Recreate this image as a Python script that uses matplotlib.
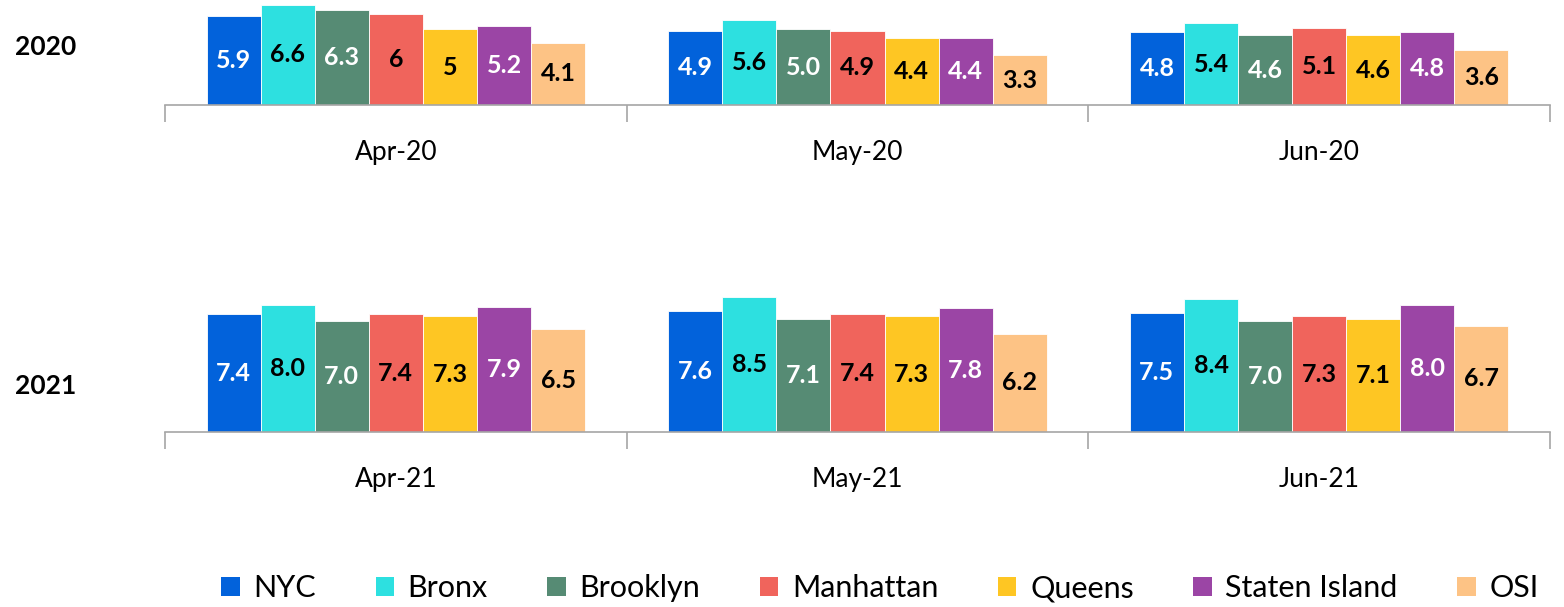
import numpy as np
import matplotlib.pyplot as plt
from matplotlib.patches import Patch

plt.rcParams['font.family'] = ['Lato', 'DejaVu Sans']

boroughs = ['NYC', 'Bronx', 'Brooklyn', 'Manhattan', 'Queens', 'Staten Island', 'OSI']
colors = ['#0262DB', '#2DE0E0', '#568B74', '#F0645C', '#FEC623', '#9B45A5', '#FDC385']
text_colors = ['white', 'black', 'white', 'black', 'black', 'white', 'black']

months_2020 = ['Apr-20', 'May-20', 'Jun-20']
vals_2020 = [
    [5.9, 6.6, 6.3, 6.0, 5.0, 5.2, 4.1],
    [4.9, 5.6, 5.0, 4.9, 4.4, 4.4, 3.3],
    [4.8, 5.4, 4.6, 5.1, 4.6, 4.8, 3.6],
]
labels_2020 = [
    ['5.9', '6.6', '6.3', '6', '5', '5.2', '4.1'],
    ['4.9', '5.6', '5.0', '4.9', '4.4', '4.4', '3.3'],
    ['4.8', '5.4', '4.6', '5.1', '4.6', '4.8', '3.6'],
]

months_2021 = ['Apr-21', 'May-21', 'Jun-21']
vals_2021 = [
    [7.4, 8.0, 7.0, 7.4, 7.3, 7.9, 6.5],
    [7.6, 8.5, 7.1, 7.4, 7.3, 7.8, 6.2],
    [7.5, 8.4, 7.0, 7.3, 7.1, 8.0, 6.7],
]
labels_2021 = [
    ['7.4', '8.0', '7.0', '7.4', '7.3', '7.9', '6.5'],
    ['7.6', '8.5', '7.1', '7.4', '7.3', '7.8', '6.2'],
    ['7.5', '8.4', '7.0', '7.3', '7.1', '8.0', '6.7'],
]

W, H = 1564, 607
fig = plt.figure(figsize=(W / 100, H / 100), dpi=100)


def panel(rect, months, vals, labels, ymax, year, year_y):
    ax = fig.add_axes(rect)
    n = len(boroughs)
    bw = 0.82 / n
    for i, m in enumerate(months):
        for j in range(n):
            x = i - 0.41 + bw * (j + 0.5)
            v = vals[i][j]
            ax.bar(x, v, width=bw, color=colors[j], edgecolor='white', linewidth=0.6)
            ax.text(x, v / 2, labels[i][j], ha='center', va='center',
                    color=text_colors[j], fontsize=18, fontweight='bold')
    ax.set_xlim(-0.5, len(months) - 0.5)
    ax.set_ylim(0, ymax)
    for s in ['top', 'left', 'right']:
        ax.spines[s].set_visible(False)
    ax.spines['bottom'].set_color('#A6A6A6')
    ax.spines['bottom'].set_linewidth(1.2)
    ax.set_yticks([])
    ax.set_xticks(range(len(months)))
    ax.set_xticklabels(months, fontsize=19)
    ax.tick_params(axis='x', which='major', length=0, pad=25)
    ax.set_xticks(np.arange(-0.5, len(months), 1.0), minor=True)
    ax.tick_params(axis='x', which='minor', length=12, width=1.2, color='#A6A6A6')
    fig.text(15 / W, year_y, year, fontsize=19, fontweight='bold', va='center')
    return ax


left = 165 / W
width = 1385 / W
panel([left, (H - 105) / H, width, 100 / H], months_2020, vals_2020, labels_2020,
      6.6, '2020', 1 - 47 / H)
panel([left, (H - 432) / H, width, 135 / H], months_2021, vals_2021, labels_2021,
      8.5, '2021', 1 - 386 / H)

handles = [Patch(facecolor=c, label=b) for c, b in zip(colors, boroughs)]
fig.legend(handles=handles, loc='center', bbox_to_anchor=(880 / W, 1 - 588 / H),
           ncol=7, frameon=False, fontsize=22, handlelength=0.6, handleheight=0.6,
           handletextpad=0.45, columnspacing=1.95)

fig.savefig('out.png', dpi=100)
